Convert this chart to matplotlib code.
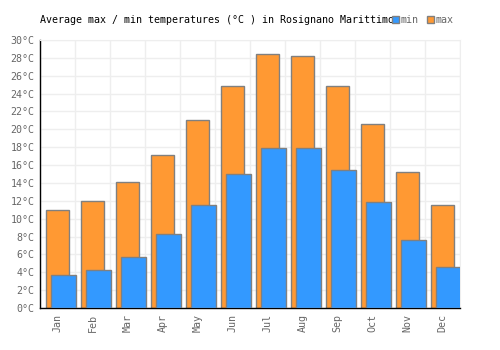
import matplotlib
matplotlib.use("Agg")
import matplotlib.pyplot as plt
import numpy as np

months = ["Jan", "Feb", "Mar", "Apr", "May", "Jun", "Jul", "Aug", "Sep", "Oct", "Nov", "Dec"]
temp_max = [11.0, 12.0, 14.1, 17.1, 21.1, 24.8, 28.4, 28.2, 24.9, 20.6, 15.2, 11.5]
temp_min = [3.7, 4.2, 5.7, 8.3, 11.5, 15.0, 17.9, 17.9, 15.5, 11.9, 7.6, 4.6]
yticks = list(range(0, 31, 2))

plt.rcParams['font.family'] = ['DejaVu Sans Mono']

fig = plt.figure(figsize=(5, 3.5), dpi=100)
ax = fig.add_axes([0.08, 0.12, 0.84, 0.7657])

x = np.arange(len(months))
ax.bar(x, temp_max, width=0.67, color="#ff9933", edgecolor="#808080", linewidth=1, zorder=2, label="max")
ax.bar(x + 0.17, temp_min, width=0.7, color="#3399ff", edgecolor="#808080", linewidth=1, zorder=3, label="min")

ax.set_xlim(-0.5, 11.5)
ax.set_ylim(0, 30)
ax.set_yticks(yticks)
ax.set_yticklabels([f"{t}°C" for t in yticks])
ax.set_xticks(x)
ax.set_xticklabels(months, rotation=90)
ax.set_xticks(np.arange(-0.5, 12, 1), minor=True)
ax.grid(True, which="minor", axis="x", color="#eeeeee", linewidth=1, zorder=0)
ax.grid(True, which="major", axis="y", color="#eeeeee", linewidth=1, zorder=0)
ax.tick_params(axis="both", which="both", length=0, labelsize=7.2, colors="#666666", pad=4)

for s in ["top", "right"]:
    ax.spines[s].set_color("#eeeeee")
for s in ["left", "bottom"]:
    ax.spines[s].set_color("black")
    ax.spines[s].set_linewidth(1)

fig.text(0.08, 0.943, "Average max / min temperatures (°C ) in Rosignano Marittimo",
         ha="left", va="center", fontsize=7.2, color="black")

h, l = ax.get_legend_handles_labels()
fig.legend(h[::-1], l[::-1], loc="center", bbox_to_anchor=(0.845, 0.943), ncol=2, frameon=False,
           handlelength=0.7, handleheight=0.7, handletextpad=0.2, columnspacing=0.8,
           fontsize=7.2, labelcolor="#666666")

fig.savefig("out.png", dpi=100)
